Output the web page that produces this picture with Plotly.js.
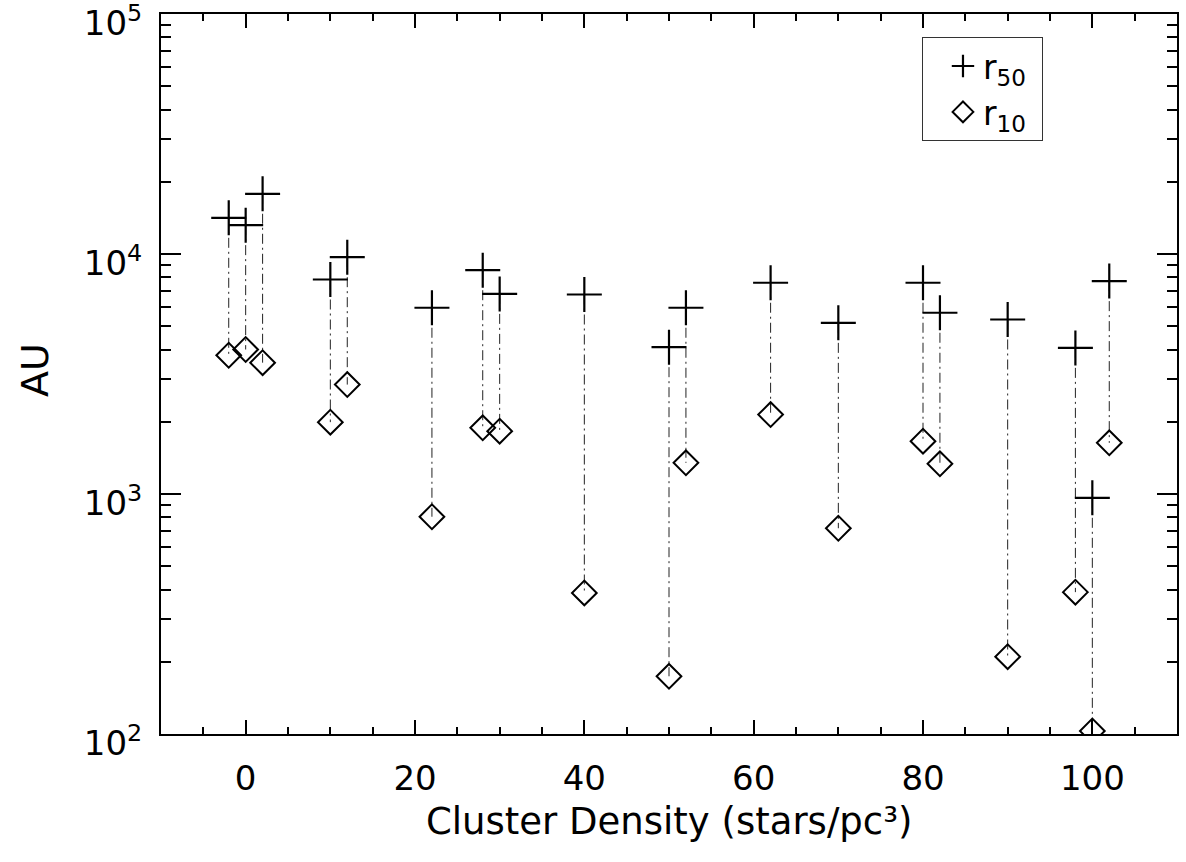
<!DOCTYPE html>
<html>
<head>
<meta charset="utf-8">
<script src="https://cdn.plot.ly/plotly-3.0.1.min.js"></script>
<style>
  html, body { margin: 0; padding: 0; background: #fff; }
  #chart { width: 1186px; height: 862px; }
</style>
</head>
<body>
<div id="chart"></div>
<script>
// Cluster density (stars/pc^3) for each simulated cluster
const density = [-2, 0, 2, 10, 12, 22, 28, 30, 40, 50, 52, 62, 70, 80, 82, 90, 98, 100, 102];
// Half-mass radius r50 (AU)
const r50 = [14150, 13190, 17820, 7830, 9700, 5970, 8560, 6820, 6780, 4090, 5970, 7590, 5165, 7590, 5690, 5335, 4063, 964, 7710];
// 10% radius r10 (AU)
const r10 = [3785, 4000, 3525, 1992, 2857, 804, 1887, 1827, 387, 174, 1349, 2143, 720, 1660, 1336, 210, 390, 103, 1634];

const xTickVals = [0, 20, 40, 60, 80, 100];
const yTickVals = [100, 1000, 10000, 100000];
const yTickText = ['10<sup>2</sup>', '10<sup>3</sup>', '10<sup>4</sup>', '10<sup>5</sup>'];
const xTitle = 'Cluster Density (stars/pc³)';
const yTitle = 'AU';

const FONT = 'DejaVu Sans, Liberation Sans, sans-serif';

// connectors between r50 and r10 for each cluster
const lx = [], ly = [];
for (let i = 0; i < density.length; i++) {
  lx.push(density[i], density[i], null);
  ly.push(r50[i], r10[i], null);
}

const traces = [
  {
    x: lx, y: ly, type: 'scatter', mode: 'lines',
    line: { color: '#222', width: 1, dash: '10px,4px,2px,4px' },
    showlegend: false, hoverinfo: 'skip'
  },
  {
    x: density, y: r50, type: 'scatter', mode: 'markers', name: 'r<sub>50</sub>\u00a0',
    marker: { symbol: 'cross-thin-open', size: 25, color: '#000', line: { color: '#000', width: 2.2 } }
  },
  {
    x: density, y: r10, type: 'scatter', mode: 'markers', name: 'r<sub>10</sub>\u00a0',
    marker: { symbol: 'diamond-open', size: 19, color: '#000', line: { color: '#000', width: 2 } }
  }
];

const layout = {
  width: 1186, height: 862,
  margin: { l: 161, r: 9, t: 14, b: 128 },
  paper_bgcolor: '#fff', plot_bgcolor: '#fff',
  font: { family: FONT, color: '#000', size: 34 },
  showlegend: true,
  legend: {
    x: 0.749, y: 0.968, xanchor: 'left', yanchor: 'top',
    bgcolor: '#fff', bordercolor: '#333', borderwidth: 1,
    font: { family: FONT, size: 33, color: '#000' },
    indentation: 20, tracegroupgap: 0
  },
  xaxis: {
    range: [-10, 110], showgrid: false, zeroline: false,
    showline: true, linecolor: '#000', linewidth: 2, mirror: 'ticks',
    ticks: 'inside', ticklen: 14, tickwidth: 2, tickcolor: '#000',
    tickmode: 'array', tickvals: xTickVals,
    ticklabelstandoff: 13,
    tickfont: { family: FONT, size: 34, color: '#000' },
    minor: { ticks: 'inside', ticklen: 7, tickwidth: 2, tickcolor: '#000', dtick: 5, showgrid: false }
  },
  yaxis: {
    type: 'log', range: [2, 5], showgrid: false, zeroline: false,
    showline: true, linecolor: '#000', linewidth: 2, mirror: 'ticks',
    ticks: 'inside', ticklen: 20, tickwidth: 2, tickcolor: '#000',
    tickmode: 'array', tickvals: yTickVals, ticktext: yTickText,
    ticklabelstandoff: 10, ticklabelshift: 9, ticklabeloverflow: 'allow',
    tickfont: { family: FONT, size: 34, color: '#000' },
    minor: { ticks: 'inside', ticklen: 10, tickwidth: 2, tickcolor: '#000', dtick: 'D1', showgrid: false }
  },
  annotations: [
    {
      text: xTitle, xref: 'paper', yref: 'paper', x: 0.5, y: -0.1222,
      xanchor: 'center', yanchor: 'middle', showarrow: false,
      font: { family: FONT, size: 37, color: '#000' }
    },
    {
      text: yTitle, xref: 'paper', yref: 'paper', x: -0.124, y: 0.5056,
      xanchor: 'center', yanchor: 'middle', showarrow: false, textangle: -90,
      font: { family: FONT, size: 38, color: '#000' }
    }
  ]
};

Plotly.newPlot('chart', traces, layout, { staticPlot: true, displayModeBar: false });
</script>
</body>
</html>
